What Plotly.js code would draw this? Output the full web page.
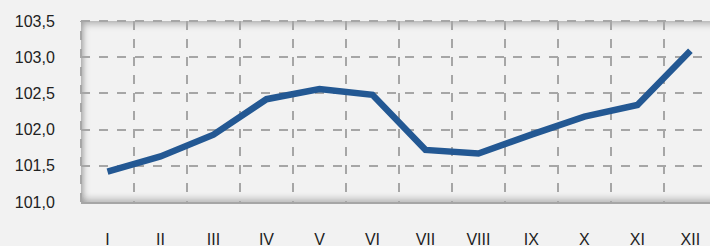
<!DOCTYPE html>
<html>
<head>
<meta charset="utf-8">
<script src="https://cdn.plot.ly/plotly-3.0.1.min.js"></script>
<style>
html,body{margin:0;padding:0;background:#f2f2f2;overflow:hidden}
#wrap{position:relative;width:710px;height:246px}
#shade{position:absolute;left:81px;top:21px;width:640px;height:181px;background:#f2f2f2;
  box-shadow: inset 2px 3px 7px rgba(0,0,0,0.28), inset 0 -4px 6px rgba(0,0,0,0.18);}
#chart{position:absolute;left:0;top:0}
</style>
</head>
<body>
<div id="wrap"><div id="shade"></div><div id="chart" style="width:710px;height:246px"></div></div>
<script>
const months = ["I","II","III","IV","V","VI","VII","VIII","IX","X","XI","XII"];
const values = [101.42, 101.63, 101.93, 102.42, 102.56, 102.48, 101.72, 101.67, 101.93, 102.18, 102.34, 103.09];
const yTicks = [101.0, 101.5, 102.0, 102.5, 103.0, 103.5];

const trace = {
  x: months, y: values, type: "scatter", mode: "lines",
  line: {color: "#235893", width: 6.5},
  hoverinfo: "skip"
};
const dashStyle = {color: "#a6a6a6", width: 2, dash: "dash"};
const layout = {
  width: 710, height: 246,
  margin: {l: 81, r: 0, t: 21, b: 44},
  paper_bgcolor: "rgba(0,0,0,0)", plot_bgcolor: "rgba(0,0,0,0)",
  separators: ", ",
  showlegend: false,
  font: {family: "Liberation Sans, Arial, sans-serif", size: 16, color: "#222"},
  xaxis: {
    type: "category", range: [-0.5, 11.37],
    tickson: "boundaries",
    showgrid: true, gridcolor: "#a6a6a6", gridwidth: 2, griddash: "dash",
    ticks: "outside", ticklen: 26, tickcolor: "rgba(0,0,0,0)",
    ticklabelstandoff: 22,
    showline: true, linecolor: "#a6a6a6", linewidth: 2,
    zeroline: false, fixedrange: true
  },
  yaxis: {
    range: [101.0, 103.5], tickvals: yTicks, tickformat: ".1f",
    showgrid: true, gridcolor: "#a6a6a6", gridwidth: 2, griddash: "dash",
    ticks: "outside", ticklen: 22, tickcolor: "rgba(0,0,0,0)",
    showline: false, zeroline: false, fixedrange: true
  },
  shapes: [
    {type: "line", xref: "paper", yref: "paper", x0: 0, x1: 1, y0: 1, y1: 1, line: dashStyle, layer: "below"},
    {type: "line", xref: "paper", yref: "paper", x0: 0, x1: 0, y0: 0, y1: 1, line: dashStyle, layer: "below"}
  ]
};
Plotly.newPlot("chart", [trace], layout, {displayModeBar: false, staticPlot: true});
</script>
</body>
</html>
